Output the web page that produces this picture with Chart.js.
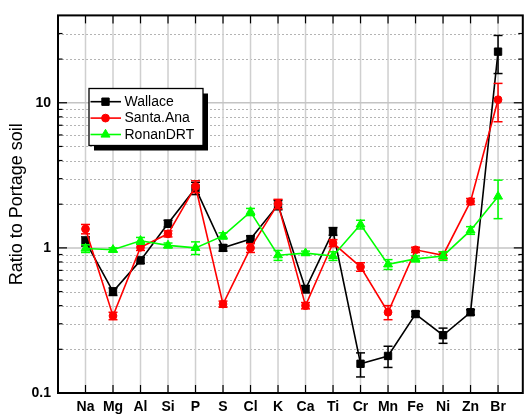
<!DOCTYPE html>
<html><head><meta charset="utf-8">
<script src="https://cdn.jsdelivr.net/npm/chart.js@4/dist/chart.umd.min.js"></script>
<style>html,body{margin:0;padding:0;background:#fff;}#wrap{width:529px;height:415px;position:relative;}</style>
</head><body><div id="wrap"><canvas id="c" width="529" height="415"></canvas></div>
<script>
const elements = ['Na','Mg','Al','Si','P','S','Cl','K','Ca','Ti','Cr','Mn','Fe','Ni','Zn','Br'];
const wallace     = [1.11,0.50,0.82,1.47,2.58,1.00,1.15,1.98,0.52,1.30,0.159,0.18,0.35,0.25,0.36,22.5];
const wallaceErr  = [0.08,0.03,0.04,0.08,0.25,0.05,0.06,0.15,0.03,0.08,0.03,0.03,0.015,0.03,0.015,6.6];
const santaAna    = [1.35,0.34,1.01,1.25,2.65,0.41,1.00,2.01,0.40,1.08,0.74,0.36,0.97,0.89,2.09,10.5];
const santaAnaErr = [0.10,0.02,0.05,0.06,0.25,0.02,0.07,0.15,0.02,0.06,0.05,0.04,0.04,0.05,0.10,3.1];
const ronan       = [0.99,0.97,1.12,1.04,1.00,1.21,1.77,0.89,0.92,0.88,1.45,0.77,0.84,0.88,1.32,2.26];
const ronanErr    = [0.06,0.03,0.06,0.04,0.10,0.06,0.10,0.07,0.03,0.06,0.10,0.06,0.04,0.06,0.08,0.67];
const seriesNames = ['Wallace','Santa.Ana','RonanDRT'];
const yMajorTicks = [0.1, 1, 10];
const yMinorTicks = [0.2,0.3,0.4,0.5,0.6,0.7,0.8,0.9,2,3,4,5,6,7,8,9,20,30];
const yMin = 0.1, yMax = 40;
const xMin = 0, xMax = 16.9;

const FONT = "'Liberation Sans', Arial, sans-serif";
const toPts = arr => arr.map((v, i) => ({x: i + 1, y: v}));

const styles = [
  {color:'#000000', pointStyle:'rect', radius:5.2},
  {color:'#ff0000', pointStyle:'circle', radius:3.9},
  {color:'#00ff00', pointStyle:'triangle', radius:5.2}
];
const values = [wallace, santaAna, ronan];
const errs = [wallaceErr, santaAnaErr, ronanErr];

const datasets = values.map((vals, k) => ({
  label: seriesNames[k],
  data: toPts(vals),
  errors: errs[k],
  borderColor: styles[k].color,
  backgroundColor: styles[k].color,
  pointBackgroundColor: styles[k].color,
  pointBorderColor: styles[k].color,
  pointStyle: styles[k].pointStyle,
  pointRadius: styles[k].radius,
  pointBorderWidth: 1,
  borderWidth: 1.6,
  tension: 0,
  order: 3 - k
}));

function seg(ctx, x1, y1, x2, y2) { ctx.beginPath(); ctx.moveTo(x1, y1); ctx.lineTo(x2, y2); ctx.stroke(); }

function marker(ctx, style, x, y, r, color) {
  ctx.fillStyle = color; ctx.strokeStyle = color; ctx.lineWidth = 1;
  ctx.beginPath();
  if (style === 'rect') { const s = r * Math.SQRT1_2; ctx.rect(x - s, y - s, 2 * s, 2 * s); }
  else if (style === 'circle') { ctx.arc(x, y, r, 0, Math.PI * 2); }
  else { ctx.moveTo(x, y - r); ctx.lineTo(x + r * 0.866, y + r * 0.5); ctx.lineTo(x - r * 0.866, y + r * 0.5); ctx.closePath(); }
  ctx.fill(); ctx.stroke();
}

const errorBars = {
  id: 'errorBars',
  beforeDatasetDraw(chart, args) {
    const ds = chart.data.datasets[args.index];
    const y = chart.scales.y; const ctx = chart.ctx;
    ctx.save();
    ctx.strokeStyle = ds.borderColor; ctx.lineWidth = 1.5;
    args.meta.data.forEach((pt, i) => {
      const v = ds.data[i].y, e = ds.errors[i];
      const yt = y.getPixelForValue(v + e), yb = y.getPixelForValue(Math.max(v - e, 1e-6));
      seg(ctx, pt.x, yt, pt.x, yb);
      seg(ctx, pt.x - 4.5, yt, pt.x + 4.5, yt);
      seg(ctx, pt.x - 4.5, yb, pt.x + 4.5, yb);
    });
    ctx.restore();
  }
};

const gridFrame = {
  id: 'gridFrame',
  beforeDatasetsDraw(chart) {
    const {ctx, chartArea: a, scales: {x, y}} = chart;
    ctx.save();
    ctx.lineWidth = 1; ctx.strokeStyle = '#b4b4b4'; ctx.setLineDash([2, 2]);
    yMinorTicks.forEach(v => { const py = Math.round(y.getPixelForValue(v)) + 0.5; seg(ctx, a.left, py, a.right, py); });
    ctx.setLineDash([]);
    ctx.strokeStyle = '#cfcfcf'; ctx.lineWidth = 1.5;
    elements.forEach((e, i) => { const px = x.getPixelForValue(i + 1); seg(ctx, px, a.top, px, a.bottom); });
    ctx.strokeStyle = '#c4c4c4'; ctx.lineWidth = 1.5;
    yMajorTicks.forEach(v => { const py = y.getPixelForValue(v); if (py < a.bottom - 1) seg(ctx, a.left, py, a.right, py); });
    ctx.restore();
  },
  afterDatasetsDraw(chart) {
    const {ctx, chartArea: a, scales: {x, y}} = chart;
    ctx.save();
    ctx.strokeStyle = '#000'; ctx.lineWidth = 1.2;
    // ticks (inward) on all four sides
    yMajorTicks.forEach(v => { const py = y.getPixelForValue(v); seg(ctx, a.left, py, a.left + 9, py); seg(ctx, a.right, py, a.right - 9, py); });
    yMinorTicks.forEach(v => { const py = y.getPixelForValue(v); seg(ctx, a.left, py, a.left + 4.5, py); seg(ctx, a.right, py, a.right - 4.5, py); });
    elements.forEach((e, i) => { const px = x.getPixelForValue(i + 1); seg(ctx, px, a.bottom, px, a.bottom - 8); seg(ctx, px, a.top, px, a.top + 8); });
    // frame
    ctx.lineWidth = 2;
    ctx.strokeRect(a.left, a.top, a.right - a.left, a.bottom - a.top);
    // legend
    const bx = 89, by = 88.5, bw = 114, bh = 57;
    ctx.fillStyle = '#000'; ctx.fillRect(bx + 5, by + 5, bw, bh);
    ctx.fillStyle = '#fff'; ctx.fillRect(bx, by, bw, bh);
    ctx.lineWidth = 1.3; ctx.strokeStyle = '#000'; ctx.strokeRect(bx, by, bw, bh);
    ctx.font = '14px ' + FONT; ctx.textBaseline = 'middle'; ctx.textAlign = 'left';
    chart.data.datasets.forEach((ds, k) => {
      const cy = 101.7 + k * 16.4;
      ctx.strokeStyle = ds.borderColor; ctx.lineWidth = 1.6;
      seg(ctx, 90.5, cy, 121, cy);
      marker(ctx, ds.pointStyle, 105.5, cy, ds.pointRadius, ds.borderColor);
      ctx.fillStyle = '#000';
      ctx.fillText(ds.label, 124.5, cy + 0.5);
    });
    ctx.restore();
  }
};

new Chart(document.getElementById('c'), {
  type: 'line',
  data: {datasets},
  options: {
    responsive: false, animation: false, devicePixelRatio: 1,
    layout: {padding: {top: 13, right: 3, left: 0, bottom: 0}},
    plugins: {legend: {display: false}, tooltip: {enabled: false}},
    scales: {
      x: {
        type: 'linear', min: xMin, max: xMax,
        grid: {display: false, drawTicks: false}, border: {display: false},
        afterBuildTicks: s => { s.ticks = elements.map((e, i) => ({value: i + 1})); },
        afterFit: s => { s.height = 22; },
        ticks: {
          autoSkip: false, maxRotation: 0, padding: 6, color: '#000',
          font: {family: FONT, size: 14, weight: 'bold'},
          callback: v => elements[v - 1] || ''
        }
      },
      y: {
        type: 'logarithmic', min: yMin, max: yMax,
        grid: {display: false, drawTicks: false}, border: {display: false},
        afterBuildTicks: s => { s.ticks = yMajorTicks.map(v => ({value: v, major: true})); },
        afterFit: s => { s.width = 58; },
        ticks: {
          autoSkip: false, padding: 7, color: '#000',
          font: {family: FONT, size: 14, weight: 'bold'},
          callback: v => String(v)
        },
        title: {display: true, text: 'Ratio to Portage soil', color: '#000',
          font: {family: FONT, size: 18}, padding: {top: 6, bottom: 0}}
      }
    }
  },
  plugins: [gridFrame, errorBars]
});
</script></body></html>
